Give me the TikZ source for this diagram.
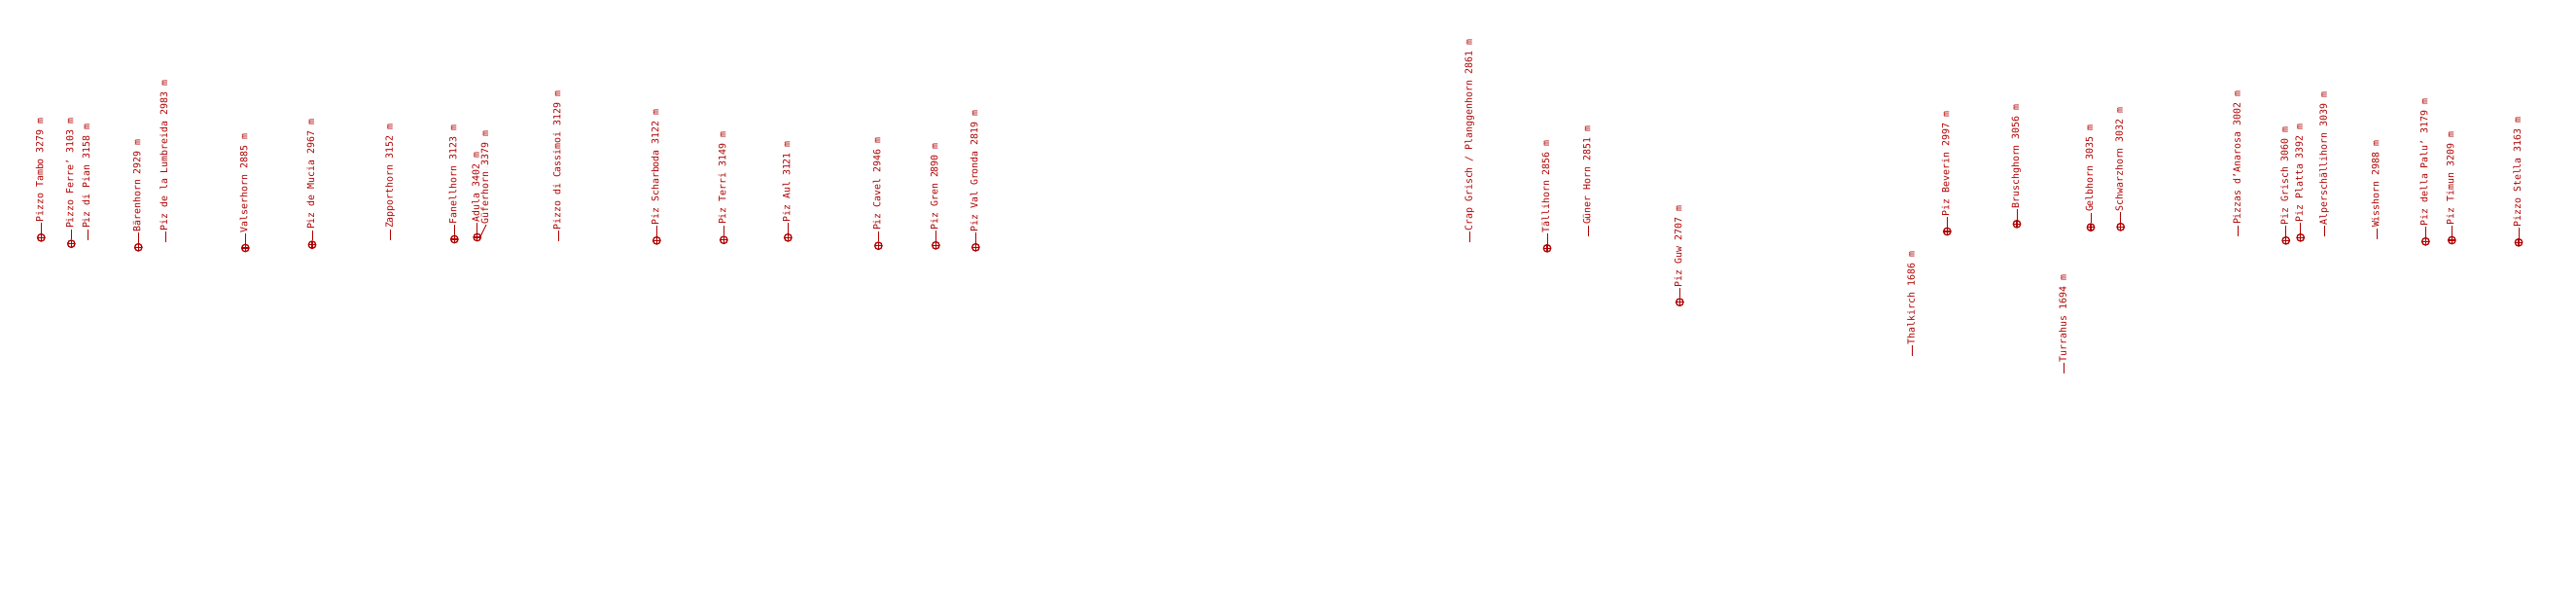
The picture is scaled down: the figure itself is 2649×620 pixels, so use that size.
\documentclass[tikz,border=0pt]{standalone}
\usepackage{fontspec}
\newfontfamily\pkfont{DejaVu Sans Mono}
\definecolor{pkred}{RGB}{175,0,0}
\tikzset{
  peak/.style={circle, draw=pkred, line width=1.3pt, minimum size=7.5pt, inner sep=0pt,
    path picture={\draw[pkred, line width=1.1pt]
      (path picture bounding box.north) -- (path picture bounding box.south)
      (path picture bounding box.east) -- (path picture bounding box.west);}},
  lbl/.style={rotate=90, anchor=mid west, inner xsep=0.5pt, inner ysep=0pt, text=pkred,
    font=\pkfont\fontsize{9.9}{11}\selectfont},
  lead/.style={draw=pkred, line width=0.9pt}
}
\begin{document}
\begin{tikzpicture}[x=1pt, y=-1pt]
\path[use as bounding box] (0,0) rectangle (2649,620);
\node[peak] (m1) at (42.3,244.3) {};
\node[lbl] (l1) at (42.3,229.3) {Pizzo Tambo 3279 m};
\draw[lead] (m1.north) -- (l1.mid west);
\node[peak] (m2) at (73.3,250.7) {};
\node[lbl] (l2) at (73.3,235.7) {Pizzo Ferre’ 3103 m};
\draw[lead] (m2.north) -- (l2.mid west);
\coordinate (m3) at (90,246.7);
\node[lbl] (l3) at (90,235.7) {Piz di Pian 3158 m};
\draw[lead] (m3) -- (l3.mid west);
\node[peak] (m4) at (142.3,254.3) {};
\node[lbl] (l4) at (142.3,239.3) {Bärenhorn 2929 m};
\draw[lead] (m4.north) -- (l4.mid west);
\coordinate (m5) at (170,249.3);
\node[lbl] (l5) at (170,238.3) {Piz de la Lumbreida 2983 m};
\draw[lead] (m5) -- (l5.mid west);
\node[peak] (m6) at (252.3,255) {};
\node[lbl] (l6) at (252.3,240) {Valserhorn 2885 m};
\draw[lead] (m6.north) -- (l6.mid west);
\node[peak] (m7) at (321,251.7) {};
\node[lbl] (l7) at (321,236.7) {Piz de Mucia 2967 m};
\draw[lead] (m7.north) -- (l7.mid west);
\coordinate (m8) at (401.7,246.7);
\node[lbl] (l8) at (401.7,235.7) {Zapporthorn 3152 m};
\draw[lead] (m8) -- (l8.mid west);
\node[peak] (m9) at (467.3,246) {};
\node[lbl] (l9) at (467.3,231) {Fanellhorn 3123 m};
\draw[lead] (m9.north) -- (l9.mid west);
\node[peak] (m10) at (490.7,244) {};
\node[lbl] (l10) at (490.7,229) {Adula 3402 m};
\draw[lead] (m10.north) -- (l10.mid west);
\coordinate (m11) at (494,243.3);
\node[lbl] (l11) at (500,231) {Güferhorn 3379 m};
\draw[lead] (m11) -- (l11.mid west);
\coordinate (m12) at (574.3,248.3);
\node[lbl] (l12) at (574.3,237.3) {Pizzo di Cassimoi 3129 m};
\draw[lead] (m12) -- (l12.mid west);
\node[peak] (m13) at (675.3,247.3) {};
\node[lbl] (l13) at (675.3,232.3) {Piz Scharboda 3122 m};
\draw[lead] (m13.north) -- (l13.mid west);
\node[peak] (m14) at (744.3,246.7) {};
\node[lbl] (l14) at (744.3,231.7) {Piz Terri 3149 m};
\draw[lead] (m14.north) -- (l14.mid west);
\node[peak] (m15) at (810.3,244.3) {};
\node[lbl] (l15) at (810.3,229.3) {Piz Aul 3121 m};
\draw[lead] (m15.north) -- (l15.mid west);
\node[peak] (m16) at (903.3,252.7) {};
\node[lbl] (l16) at (903.3,237.7) {Piz Cavel 2946 m};
\draw[lead] (m16.north) -- (l16.mid west);
\node[peak] (m17) at (962.3,252.3) {};
\node[lbl] (l17) at (962.3,237.3) {Piz Gren 2890 m};
\draw[lead] (m17.north) -- (l17.mid west);
\node[peak] (m18) at (1003.3,254.3) {};
\node[lbl] (l18) at (1003.3,239.3) {Piz Val Gronda 2819 m};
\draw[lead] (m18.north) -- (l18.mid west);
\coordinate (m19) at (1511.7,249.3);
\node[lbl] (l19) at (1511.7,238.3) {Crap Grisch / Planggenhorn 2861 m};
\draw[lead] (m19) -- (l19.mid west);
\node[peak] (m20) at (1591,255.3) {};
\node[lbl] (l20) at (1591,240.3) {Tällihorn 2856 m};
\draw[lead] (m20.north) -- (l20.mid west);
\coordinate (m21) at (1633.3,242.7);
\node[lbl] (l21) at (1633.3,231.7) {Güner Horn 2851 m};
\draw[lead] (m21) -- (l21.mid west);
\node[peak] (m22) at (1727.3,310.7) {};
\node[lbl] (l22) at (1727.3,295.7) {Piz Guw 2707 m};
\draw[lead] (m22.north) -- (l22.mid west);
\coordinate (m23) at (1966.7,365.7);
\node[lbl] (l23) at (1966.7,354.7) {Thalkirch 1686 m};
\draw[lead] (m23) -- (l23.mid west);
\node[peak] (m24) at (2002.3,238) {};
\node[lbl] (l24) at (2002.3,223) {Piz Beverin 2997 m};
\draw[lead] (m24.north) -- (l24.mid west);
\node[peak] (m25) at (2074,230.3) {};
\node[lbl] (l25) at (2074,215.3) {Bruschghorn 3056 m};
\draw[lead] (m25.north) -- (l25.mid west);
\coordinate (m26) at (2122.7,384);
\node[lbl] (l26) at (2122.7,373) {Turrahus 1694 m};
\draw[lead] (m26) -- (l26.mid west);
\node[peak] (m27) at (2150,233.7) {};
\node[lbl] (l27) at (2150,218.7) {Gelbhorn 3035 m};
\draw[lead] (m27.north) -- (l27.mid west);
\node[peak] (m28) at (2180.7,233.3) {};
\node[lbl] (l28) at (2180.7,218.3) {Schwarzhorn 3032 m};
\draw[lead] (m28.north) -- (l28.mid west);
\coordinate (m29) at (2301.7,242.7);
\node[lbl] (l29) at (2301.7,231.7) {Pizzas d’Anarosa 3002 m};
\draw[lead] (m29) -- (l29.mid west);
\node[peak] (m30) at (2350.7,247.3) {};
\node[lbl] (l30) at (2350.7,232.3) {Piz Grisch 3060 m};
\draw[lead] (m30.north) -- (l30.mid west);
\node[peak] (m31) at (2365.7,244.3) {};
\node[lbl] (l31) at (2365.7,229.3) {Piz Platta 3392 m};
\draw[lead] (m31.north) -- (l31.mid west);
\coordinate (m32) at (2390.7,243.3);
\node[lbl] (l32) at (2390.7,232.3) {Alperschällihorn 3039 m};
\draw[lead] (m32) -- (l32.mid west);
\coordinate (m33) at (2444.3,245.7);
\node[lbl] (l33) at (2444.3,234.7) {Wisshorn 2988 m};
\draw[lead] (m33) -- (l33.mid west);
\node[peak] (m34) at (2494.3,248.3) {};
\node[lbl] (l34) at (2494.3,233.3) {Piz della Palu’ 3179 m};
\draw[lead] (m34.north) -- (l34.mid west);
\node[peak] (m35) at (2521.3,247) {};
\node[lbl] (l35) at (2521.3,232) {Piz Timun 3209 m};
\draw[lead] (m35.north) -- (l35.mid west);
\node[peak] (m36) at (2590,249.3) {};
\node[lbl] (l36) at (2590,234.3) {Pizzo Stella 3163 m};
\draw[lead] (m36.north) -- (l36.mid west);
\end{tikzpicture}
\end{document}
